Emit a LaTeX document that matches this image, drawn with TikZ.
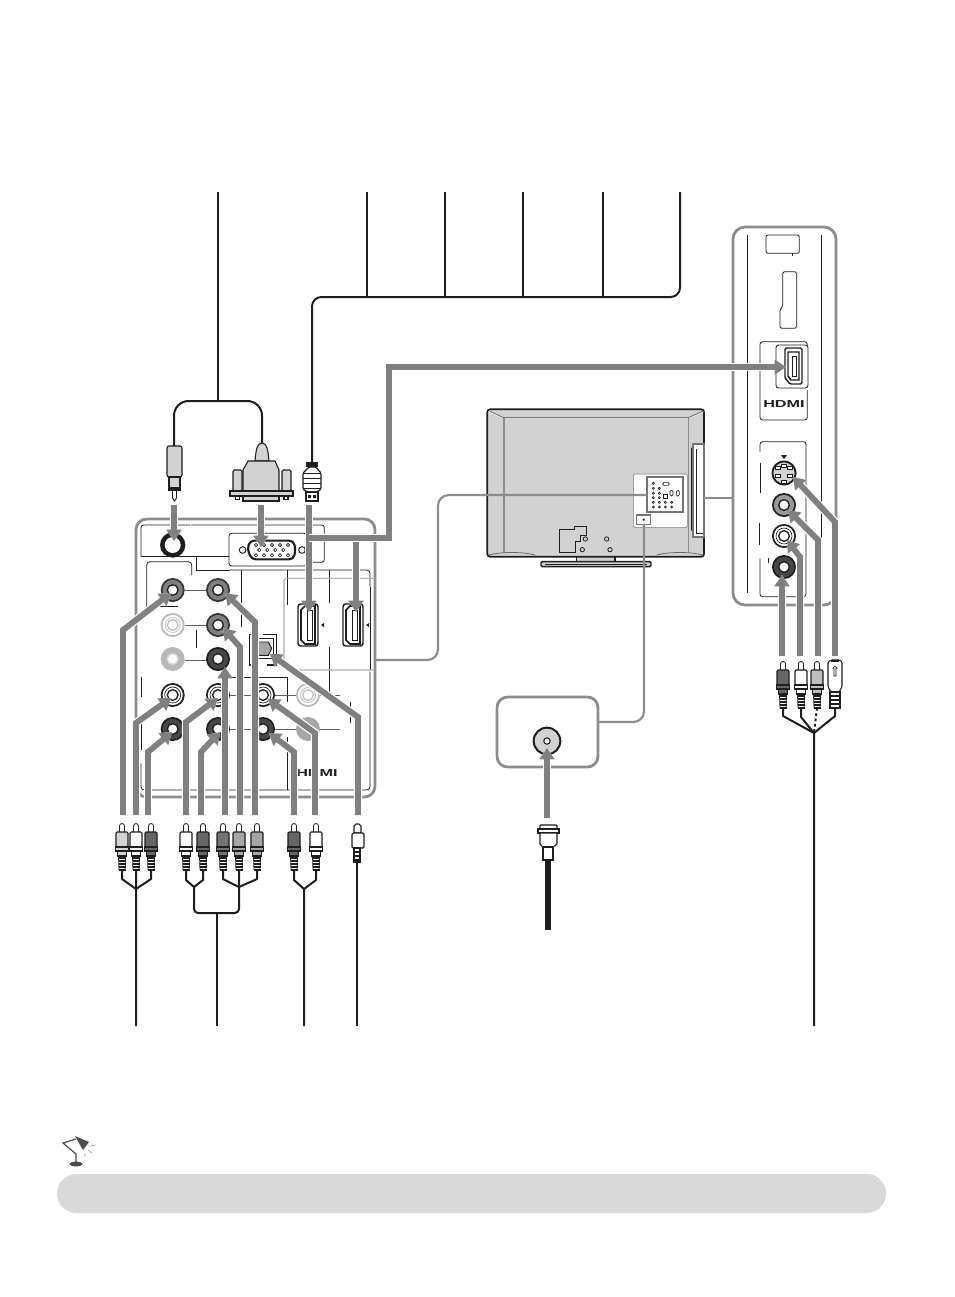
\documentclass[tikz,border=0pt]{standalone}
\usepackage{fontspec}
\setmainfont{Liberation Sans}
\usetikzlibrary{arrows.meta}
\definecolor{flowgray}{HTML}{808080}
\definecolor{panelgray}{HTML}{8C8C8C}
\definecolor{tvgray}{HTML}{D2D2D2}
\definecolor{ink}{HTML}{1E1E1E}
\tikzset{
  flow/.style={draw=flowgray,line width=4.4pt,-{Triangle[width=11pt,length=8.5pt]},line join=miter,
    preaction={draw=white,line width=6.2pt}},
  wire/.style={draw=ink,line width=1.5pt,line join=round},
  thin line/.style={draw=ink,line width=0.6pt},
  grayband/.style={draw=panelgray,line width=1.6pt},
  zoomA/.style={shift={(#1)},x=0.25pt,y=-0.25pt},
  logo/.style={font=\bfseries\fontsize{7.6}{8}\selectfont,inner sep=0pt,xscale=1.6,transform shape,text=ink}
}
% jack: name,x,y,outer,ring,centre,stroke
\newcommand\jackp[7]{%
  \coordinate (#1) at (#2,#3);
  \fill[#4] (#1) circle[radius=9pt];
  \fill[#5] (#1) circle[radius=7.6pt];
  \filldraw[fill=#6,draw=#7,line width=1pt] (#1) circle[radius=4pt];
}
% RCA plug: name,x,top y,body colour
\newcommand\rcaplug[4]{%
  \begin{scope}[shift={(#2,#3)}]
    \filldraw[fill=white,draw=ink,line width=0.6pt] (-2.5,10) -- (-2.5,3) arc[start angle=180,end angle=0,radius=1.875pt] -- (2.5,10) -- cycle;
    \filldraw[fill=#4,draw=ink,line width=0.8pt,rounded corners=0.8pt] (-6,9) rectangle (6,24);
    \filldraw[fill=#4,draw=ink,line width=0.8pt] (-6.5,24) rectangle (6.5,28);
    \filldraw[fill=#4,draw=ink,line width=0.8pt] (-4.5,28) rectangle (4.5,33);
    \foreach \r in {35,38,41,44,47}{\draw[ink,line width=0.9pt] (-3.5,\r) -- (3.5,\r);}
    \draw[ink,line width=0.6pt] (-3.5,33) -- (-3,47) (3.5,33) -- (3,47);
    \coordinate (#1) at (0,47);
  \end{scope}
}
% HDMI port (in px): name,x,y
\newcommand\hdmiport[3]{%
  \begin{scope}[shift={(#2,#3)}]
    \coordinate (#1) at (0,0);
    \filldraw[fill=white,draw=ink,line width=1.1pt,rounded corners=2pt] (-10,-21) -- (10,-21) -- (10,21) -- (-10,21) -- cycle;
    \draw[ink,line width=1.2pt] (-7,-15) -- (-3,-19) -- (7,-19) -- (7,19) -- (-3,19) -- (-7,15) -- cycle;
    \draw[ink,line width=0.6pt] (-1,-15) rectangle (4,15);
    \fill[ink] (16,-2) -- (16,2) -- (13,0) -- cycle;
  \end{scope}
}
\begin{document}
\begin{tikzpicture}[x=0.75pt,y=-0.75pt]
\useasboundingbox (0,0) rectangle (954,1297);
\fill[white] (0,0) rectangle (954,1297);

%%%% ---- top wires ----
\foreach \n/\x in {a/367,b/445,c/523,d/603}{
  \coordinate (top\n) at (\x,192);
  \draw[wire] (top\n) -- (\x,297);
}
\coordinate (tope) at (680,192);
\coordinate (hdmiw) at (312,463);
\draw[wire,rounded corners=7pt] (tope) -- (680,297) -- (312,297) -- (hdmiw);
\coordinate (topv) at (217.5,192);
\coordinate (audw) at (174,446);
\coordinate (vgaw) at (262,444);
\draw[wire] (topv) -- (217.5,401);
\draw[wire,rounded corners=11pt] (audw) -- (174,401) -- (262,401) -- (vgaw);

%%%% ---- audio plug ----
\filldraw[fill=tvgray,draw=ink,line width=0.8pt,rounded corners=1.5pt] (167,446) -- (182,446) -- (182,477) -- (167,477) -- cycle;
\filldraw[fill=tvgray,draw=ink,line width=0.8pt] (169,477) rectangle (180,488);
\fill[ink] (168,488) rectangle (181,490.5);
\filldraw[fill=white,draw=ink,line width=0.7pt] (172.5,490.5) -- (172.5,498) -- (174.5,501) -- (176.5,498) -- (176.5,490.5) -- cycle;

%%%% ---- VGA plug ----
\begin{scope}[line width=0.8pt,draw=ink]
\filldraw[fill=tvgray,draw=ink] (255,461) .. controls (256,450) and (257,443) .. (262,443) .. controls (267,443) and (268,450) .. (269,461) -- cycle;
\filldraw[fill=tvgray,draw=ink,rounded corners=1pt] (233,491) -- (233,470) -- (242,470) -- (242,491) -- cycle;
\filldraw[fill=tvgray,draw=ink,rounded corners=1pt] (282,491) -- (282,470) -- (291,470) -- (291,491) -- cycle;
\filldraw[fill=tvgray,draw=ink] (243,491) -- (243,470) -- (248,461) -- (275,461) -- (279,470) -- (279,491) -- cycle;
\filldraw[fill=tvgray,draw=ink] (243,496) rectangle (279,501);
\filldraw[fill=white,draw=ink] (235.5,496) rectangle (239.5,499.5);
\filldraw[fill=white,draw=ink] (284,496) rectangle (288,499.5);
\filldraw[fill=tvgray,draw=ink] (230,491) rectangle (293,496);
\end{scope}

%%%% ---- HDMI plug ----
\fill[ink] (306,462) rectangle (318,467);
\filldraw[fill=white,draw=ink,line width=0.9pt,rounded corners=1pt] (309,467) -- (316,467) -- (321,473) -- (321,489) -- (317,492) -- (307,492) -- (303,489) -- (303,473) -- cycle;
\foreach \r in {473,478,483,488}{\draw[ink,line width=0.6pt] (303,\r) -- (321,\r);}
\filldraw[fill=white,draw=ink,line width=0.9pt] (306,492) rectangle (318,501);
\fill[ink] (308,495) rectangle (311,498) (313,495) rectangle (316,498);

%%%% ---- left panel ----
\coordinate (lp) at (130,430);
\draw[draw=panelgray,line width=2.1pt,rounded corners=8pt] (136,519) rectangle (375,797);
\begin{scope}[zoomA=lp]
  \begin{scope}[thin line]
  \draw[rounded corners=2pt] (33,380) -- (33,285) -- (180,285);
  \draw[rounded corners=2pt] (183,285) -- (583,285) -- (583,397) -- (530,397);
  \draw (33,380) -- (297,380);
  \draw[rounded corners=2pt] (297,310) rectangle (530,408);
  \draw (198,380) -- (198,420) -- (300,420);
  \draw[rounded corners=2.5pt] (300,420) -- (720,420) -- (720,470);
  \draw (335,420) -- (335,590);
  \draw (472,420) -- (472,525);
  \draw (598,420) -- (598,520);
  \draw (598,650) -- (598,785);
  \draw (720,470) -- (720,720);
  \draw[rounded corners=2.5pt] (50,545) -- (50,395) -- (185,395) -- (185,435);
  \draw (50,530) -- (145,530);
  \draw (198,600) -- (198,655);
  \draw (33,740) -- (33,800);
  \draw (33,880) -- (33,960);
  \draw[rounded corners=2.5pt] (33,1000) -- (33,1080) -- (720,1080) -- (720,725);
  \draw (472,920) -- (472,1080);
  \draw (472,742) -- (472,815);
  \draw (300,742) -- (472,742);
  \draw (660,815) -- (660,880);
  \end{scope}
  % HDMI sub-frame
  \draw[draw=panelgray!70,line width=0.8pt,rounded corners=2pt] (735,445) -- (462,445) -- (462,720) -- (735,720);
  % jack links
  \draw[draw=ink!70,line width=0.7pt] (165,480) -- (235,480) (165,585) -- (235,585) (165,690) -- (235,690);
  \draw[draw=ink!70,line width=0.7pt] (300,795) -- (630,795) (300,898) -- (630,898);
  % VGA port
  \filldraw[fill=white,draw=ink,line width=0.7pt] (338,360) circle[radius=10];
  \filldraw[fill=white,draw=ink,line width=0.7pt] (516,360) circle[radius=10];
  \filldraw[fill=white,draw=ink,line width=1.6pt,rounded corners=3pt] (360,332) -- (490,332) -- (497,358) -- (490,388) -- (365,388) -- (352,358) -- cycle;
  \foreach \px in {378,402,426,450,474}{\draw[ink,line width=0.5pt] (\px,345) ++(-5,0) -- ++(5,-5) -- ++(5,5) -- ++(-5,5) -- cycle;}
  \foreach \px in {388,412,436,460}{\draw[ink,line width=0.5pt] (\px,360) ++(-5,0) -- ++(5,-5) -- ++(5,5) -- ++(-5,5) -- cycle;}
  \foreach \px in {378,402,426,450,474}{\draw[ink,line width=0.5pt] (\px,376) ++(-5,0) -- ++(5,-5) -- ++(5,5) -- ++(-5,5) -- cycle;}
  % optical port
  \draw[thin line,line width=0.9pt] (378,613) -- (358,613) -- (358,705) -- (378,705);
  \draw[thin line,line width=0.9pt] (400,613) -- (440,613) -- (440,705) -- (410,705);
  \filldraw[fill=white,draw=ink,line width=0.7pt] (376,626) rectangle (430,686);
  \filldraw[fill=flowgray!70,draw=ink,line width=0.7pt] (386,636) -- (415,636) -- (425,655) -- (415,676) -- (386,676) -- cycle;
\end{scope}
\coordinate (optp) at (262,650);

% audio jack
\coordinate (audj) at (172.7,545);
\fill[ink] (audj) circle[radius=9.5pt];
\fill[white] (audj) circle[radius=6pt];
% RCA jacks
\newcommand\jg[3]{\jackp{#1}{#2}{#3}{ink!90}{black!50}{white}{ink}}
\newcommand\jk[3]{\jackp{#1}{#2}{#3}{ink}{black!72}{white}{ink}}
\newcommand\jw[3]{\jackp{#1}{#2}{#3}{ink}{white}{white}{ink}\draw[ink,line width=0.5pt] (#2,#3) circle[radius=6pt];}
\jg{ja}{172.7}{590}
\jg{jb}{218}{590}
\jackp{jc}{172.7}{625}{black!28}{white}{white}{black!25}\draw[black!25,line width=0.6pt] (jc) circle[radius=5.6pt];
\jg{jd}{218}{625}
\jackp{je}{172.7}{659}{black!28}{black!28}{white}{black!15}
\jk{jf}{218}{659}
\jw{jg}{172.7}{695}
\jw{jh}{218}{695}
\jw{ji}{263}{695}
\jackp{jj}{308}{695}{black!28}{white}{white}{black!25}\draw[black!25,line width=0.6pt] (jj) circle[radius=5.6pt];
\jk{jk}{172.7}{729}
\jk{jl}{218}{729}
\jk{jm}{263}{729}
\jackp{jn}{308}{729}{black!35}{black!35}{black!35}{black!35}

\hdmiport{ph1}{308}{625}
\hdmiport{ph2}{353}{625}
\node[logo] (logoL) at (317,773) {HDMI};

%%%% ---- TV ----
\coordinate (tv) at (480,400);
\begin{scope}[zoomA=tv]
  \filldraw[fill=tvgray,draw=ink,line width=1.1pt] (290,468) -- (405,468) -- (405,485) -- (290,485) -- cycle;
  \filldraw[fill=tvgray,draw=ink,line width=1.1pt,rounded corners=1pt] (183,485) -- (513,485) -- (513,500) -- (183,500) -- cycle;
  \draw[ink,line width=0.6pt] (195,492) -- (500,492);
  \filldraw[fill=tvgray,draw=ink,line width=1.3pt,rounded corners=2pt] (22,28) rectangle (672,470);
  \draw[white,line width=0.6pt] (25,35) -- (70,55) -- (625,55) -- (670,35);
  \draw[black!55,line width=0.7pt] (30,34) -- (70,53) -- (625,53) -- (668,34);
  \draw[black!45,line width=1.1pt] (72,55) -- (72,458);
  \draw[black!45,line width=1.1pt] (626,55) -- (626,458);
  \draw[black!60,line width=0.6pt] (27,465) .. controls (60,455) and (130,455) .. (165,465);
  \draw[black!60,line width=0.6pt] (530,465) .. controls (565,455) and (635,455) .. (668,465);
  % white service area
  \filldraw[fill=white,draw=black!50,line width=0.5pt,rounded corners=1pt] (460,222) rectangle (622,382);
  \draw[black!55,line width=1.4pt] (500,232) rectangle (608,337);
  \draw[black!55,line width=1.2pt] (470,345) rectangle (512,373);
  \draw[ink,line width=0.4pt] (491,359) circle[radius=2.5];
  \foreach \cx/\cy in {520/250, 520/265, 538/265, 520/280, 538/280, 520/293, 538/293, 520/307, 538/307, 556/307, 575/307, 520/321, 538/321, 556/321, 575/321}{
    \draw[ink,line width=0.5pt] (\cx,\cy) circle[radius=3.2];
  }
  \draw[ink,line width=0.5pt,rounded corners=1pt] (548,247) rectangle (568,256);
  \draw[ink,line width=0.5pt] (550,282) rectangle (563,295);
  \draw[ink,line width=0.5pt,rounded corners=1pt] (570,271) rectangle (579,288);
  \draw[ink,line width=0.5pt,rounded corners=1pt] (589,271) rectangle (598,288);
  % lower cover
  \draw[ink,line width=0.7pt] (238,458) -- (238,388) -- (282,388) -- (282,378) -- (320,378) -- (320,405) -- (302,405) -- (302,425) -- (285,425) -- (285,458) -- cycle;
  \foreach \cx/\cy in {316/417, 380/417, 307/449, 390/449}{
    \draw[ink,line width=0.6pt] (\cx,\cy) circle[radius=6.5];
  }
  % side bay
  \fill[white] (640,133) rectangle (672,410);
  \draw[ink,line width=1pt] (635,145) -- (635,392) (635,145) -- (642,140);
  \draw[ink,line width=0.6pt] (648,147) -- (648,400) -- (668,400);
  \draw[black!55,line width=1.5pt] (640,133) rectangle (672,410);
\end{scope}

%%%% ---- right panel ----
\coordinate (rp) at (720,220);
\draw[draw=panelgray,line width=2.1pt,rounded corners=9pt] (733,227) rectangle (836,605);
\begin{scope}[zoomA=rp]
  \begin{scope}[thin line]
    \draw (82,45) -- (82,1120);
    \draw (305,45) -- (305,1105);
    \draw[rounded corners=1.5pt] (138,45) rectangle (238,100);
    \draw (216,100) -- (216,108);
    \draw[rounded corners=1.2pt] (188,155) -- (230,155) -- (230,325) -- (180,325) -- (180,268) -- (188,260) -- cycle;
    \draw[rounded corners=2pt] (262,500) -- (262,365) -- (120,365) -- (120,600) -- (262,600) -- (262,510);
    \draw[rounded corners=2pt] (120,695) -- (120,665) -- (258,665) -- (258,1130) -- (120,1130) -- (120,1015);
    \draw (120,820) -- (120,730) (118,910) -- (118,975);
    \draw (146,1015) -- (146,1030);
  \end{scope}
\end{scope}
\filldraw[fill=white,draw=ink,line width=0.7pt,rounded corners=2pt] (776,345) rectangle (808,388);
\filldraw[fill=white,draw=ink,line width=1.1pt,rounded corners=1pt] (785,348) -- (802,348) -- (802,384) -- (790,384) -- (785,378) -- cycle;
\draw[ink,line width=1.1pt] (788,352) -- (799,352) -- (799,380) -- (791,380) -- (788,376) -- cycle;
\draw[ink,line width=0.6pt] (792,356) rectangle (796,376);
\coordinate (ph3) at (794,367);
\node[logo] (logoR) at (784,404) {HDMI};
% S-video
\coordinate (svid) at (784,473);
\fill[ink] (784,459) -- (787,455) -- (781,455) -- cycle;
\filldraw[fill=tvgray,draw=ink,line width=1.4pt] (svid) circle[radius=8.7pt];
\foreach \dx/\dy in {-6/-5,-6/3,6/-5,6/3,0/-7,0/9}{\fill[white,draw=ink,line width=0.4pt] (784+\dx-2.5,473+\dy-1.5) rectangle (784+\dx+2.5,473+\dy+1.5);}
\jackp{jr1}{784}{505}{ink}{black!40}{white}{ink}
\jackp{jr2}{784}{536}{ink}{white}{white}{ink}\draw[ink,line width=0.5pt] (jr2) circle[radius=6pt];
\jk{jr3}{784}{567}

%%%% ---- antenna box ----
\draw[draw=panelgray,line width=2.1pt,rounded corners=8pt] (497,697) rectangle (598,767);
\coordinate (ant) at (547,741);
\filldraw[fill=tvgray,draw=ink,line width=1.5pt] (ant) circle[radius=10pt];
\filldraw[fill=white,draw=ink,line width=0.8pt] (ant) circle[radius=2.4pt];
\filldraw[fill=white,draw=ink,line width=0.8pt,rounded corners=0.5pt] (540,825) rectangle (557,829);
\filldraw[fill=white,draw=ink,line width=0.8pt] (538,829) rectangle (559,833);
\filldraw[fill=white,draw=ink,line width=0.8pt] (540,833) -- (557,833) -- (557,844) -- (553,847) -- (543,847) -- (540,844) -- cycle;
\filldraw[fill=white,draw=ink,line width=0.8pt] (543,847) rectangle (553,860);
\coordinate (antw) at (548,860);
\coordinate (antw2) at (548,930);
\draw[draw=ink,line width=4.4pt] (antw) -- (antw2);

%%%% ---- grey connector links ----
\coordinate (lpE) at (375,660);
\coordinate (selA) at (647,495);
\draw[grayband,rounded corners=8pt] (lpE) -- (438,660) -- (438,495) -- (selA);
\coordinate (selB) at (644,524);
\coordinate (boxE) at (598,722);
\draw[grayband,rounded corners=8pt] (selB) -- (644,722) -- (boxE);
\coordinate (bayE) at (704,498);
\coordinate (rpW) at (733,498);
\draw[grayband] (bayE) -- (rpW);

%%%% ---- lower plugs ----
\rcaplug{p1}{122}{823}{tvgray}
\rcaplug{p2}{136}{823}{white}
\rcaplug{p3}{151}{823}{black!60}
\rcaplug{p4}{186}{823}{white}
\rcaplug{p5}{203}{823}{black!60}
\rcaplug{p6}{223}{823}{black!55}
\rcaplug{p7}{239}{823}{black!35}
\rcaplug{p8}{257}{823}{black!35}
\rcaplug{p9}{294}{823}{black!60}
\rcaplug{p10}{316}{823}{white}
\rcaplug{r1}{783}{661}{black!60}
\rcaplug{r2}{801}{661}{white}
\rcaplug{r3}{817}{661}{black!25}

\coordinate (m1) at (136,889);
\coordinate (m1e) at (136,1026);
\draw[wire] (p1) -- (122,879) -- (m1) (p3) -- (151,879) -- (m1) (p2) -- (m1e);
\coordinate (m2) at (194,887);
\coordinate (m3) at (239,887);
\coordinate (m4) at (217,913);
\coordinate (m4e) at (217,1026);
\draw[wire] (p4) -- (186,880) -- (m2) (p5) -- (203,880) -- (m2);
\draw[wire] (p6) -- (223,879) -- (m3) (p8) -- (257,879) -- (m3) (p7) -- (m3);
\draw[wire,rounded corners=3pt] (m2) -- (194,913) -- (239,913) -- (m3);
\draw[wire] (m4) -- (m4e);
\coordinate (m5) at (304,889);
\coordinate (m5e) at (304,1026);
\draw[wire] (p9) -- (294,880) -- (m5) (p10) -- (316,880) -- (m5) (m5) -- (m5e);

% optical plug
\filldraw[fill=white,draw=ink,line width=0.8pt] (354,826) -- (356,824) -- (359,824) -- (361,826) -- (361,833) -- (354,833) -- cycle;
\filldraw[fill=white,draw=ink,line width=0.9pt,rounded corners=1pt] (352,833) rectangle (364,848);
\filldraw[fill=white,draw=ink,line width=0.8pt] (354,848) rectangle (360,862);
\foreach \r in {852,856,860}{\draw[ink,line width=1pt] (354,\r) -- (360,\r);}
\coordinate (optw) at (357,862);
\coordinate (optwe) at (357,1026);
\draw[wire] (optw) -- (optwe);

% S-video plug
\filldraw[fill=white,draw=ink,line width=0.8pt,rounded corners=1pt] (828,662) -- (831,660) -- (840,660) -- (842,662) -- (842,687) -- (839,692) -- (831,692) -- (828,687) -- cycle;
\draw[ink,line width=0.5pt] (833,668) -- (835,666) -- (837,668) -- (836,668) -- (836,676) -- (834,676) -- (834,668) -- cycle;
\fill[ink] (831,660) rectangle (839,662);
\filldraw[fill=white,draw=ink,line width=0.8pt] (830,692) rectangle (840,708);
\foreach \r in {696,700,704}{\draw[ink,line width=0.8pt] (830,\r) -- (840,\r);}
\coordinate (r4) at (835,708);
\coordinate (m6) at (814,733);
\coordinate (m6e) at (814,1026);
\draw[wire] (r1) -- (783,716) -- (m6) (r2) -- (801,717) -- (m6) (r4) -- (835,716) -- (m6) (m6) -- (m6e);
\draw[wire,dash pattern=on 2pt off 2pt] (r3) -- (m6);

%%%% ---- big grey arrows ----
\coordinate (fa) at (174,505);
\draw[flow] (fa) -- (174,541);
\coordinate (fb) at (261,505);
\draw[flow] (fb) -- (261,547);
\coordinate (fc) at (309,505);
\draw[flow] (fc) -- (309,612);
\coordinate (fd) at (389,538);
\coordinate (fe) at (356,538);
\draw[flow] (fe) -- (356,612);
\draw[flow] (309,538) -- (fd) -- (389,367) -- (786,367);

\foreach \n/\sx/\by/\tx/\ty in {
  1/123/630/171/593, 2/136/723/171/698, 3/148/752/172/732,
  4/186/722/218/698, 5/201/752/220/732, 6/225/688/225/667,
  7/240/647/223/628, 8/255/622/225/593, 9/294/752/269/733,
  10/315/733/268/699, 11/358/717/270/654}{
  \coordinate (fs\n) at (\sx,815);
  \coordinate (ft\n) at (\tx,\ty);
  \draw[flow] (fs\n) -- (\sx,\by) -- (ft\n);
}
\foreach \n/\sx/\by/\tx/\ty in {
  12/835/522/793/477, 13/818/540/788/510, 14/800/557/787/540}{
  \coordinate (fs\n) at (\sx,656);
  \coordinate (ft\n) at (\tx,\ty);
  \draw[flow] (fs\n) -- (\sx,\by) -- (ft\n);
}
\coordinate (fs15) at (782,656);
\draw[flow] (fs15) -- (782,575);
\coordinate (fs16) at (547,818);
\draw[flow] (fs16) -- (547,748);

%%%% ---- lamp and note bar ----
\fill[fill=black!15,rounded corners=14.5pt] (57,1174) rectangle (886,1213);
\begin{scope}
  \fill[black!70] (76,1164) ellipse[x radius=5pt,y radius=1.8pt];
  \draw[black!70,line width=0.9pt] (76,1163) -- (76,1154) -- (63,1143) -- (76,1139);
  \fill[black!70] (75,1136) -- (89,1142) -- (83,1150) -- (79,1143) -- cycle;
  \draw[black!40,line width=0.5pt] (90,1146) -- (96,1145) (88,1150) -- (92,1153) (85,1153) -- (85,1157);
\end{scope}
\end{tikzpicture}
\end{document}
